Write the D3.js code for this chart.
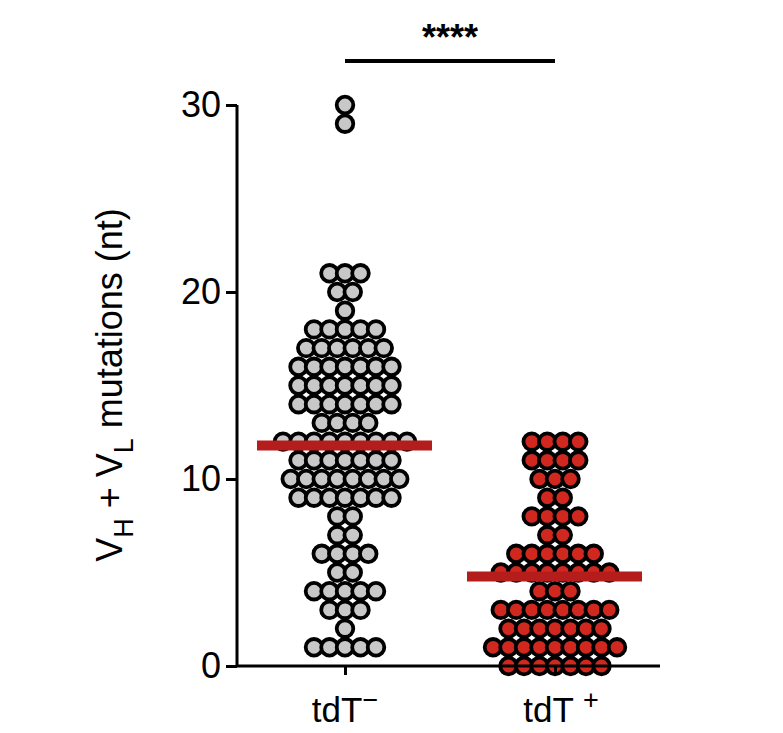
<!DOCTYPE html><html><head><meta charset="utf-8">
<script src="https://cdn.jsdelivr.net/npm/d3@7"></script>
<style>body{margin:0;background:#fff}</style></head><body>
<svg id="c" width="783" height="733"></svg>
<script>
const groups = ["tdT−", "tdT+"];
// value -> number of dots
const negValues = [30,29,21,20,19,18,17,16,15,14,13,12,11,10,9,8,7,6,5,4,3,2,1];
const negCounts = [1,1,3,2,1,5,6,7,7,7,4,9,7,8,7,2,2,4,2,5,3,1,5];
const posValues = [12,11,10,9,8,7,6,5,4,3,2,1,0];
const posCounts = [4,4,3,2,4,2,6,8,3,8,7,9,7];
const yTicks = [0,10,20,30];
const colors = ["#c8c8c8", "#d0281e"];

const svg = d3.select("#c");
const y = d3.scaleLinear().domain([0,30]).range([666,105]);
const x = d3.scalePoint().domain(groups).range([345,555]);
const font = "Liberation Sans, Arial, sans-serif";

function expand(vals, cnts){ const o=[]; vals.forEach((v,i)=>{ for(let k=0;k<cnts[i];k++) o.push({v,k,n:cnts[i]}); }); return o; }
const data = [expand(negValues,negCounts), expand(posValues,posCounts)];
const step = 15.5;

data.forEach((pts,gi)=>{
  const cx = x(groups[gi]);
  svg.append("g").selectAll("circle").data(pts).join("circle")
    .attr("cx", d => cx + (d.k - (d.n-1)/2)*step)
    .attr("cy", d => y(d.v))
    .attr("r", 8.3)
    .attr("fill", colors[gi]).attr("stroke","#000").attr("stroke-width",3.8);
  const mean = d3.mean(pts, d=>d.v);
  svg.append("line").attr("x1",cx-88).attr("x2",cx+87).attr("y1",y(mean)).attr("y2",y(mean))
    .attr("stroke","#b51d1d").attr("stroke-width",10);
});

// axes
const ya = svg.append("g").attr("transform","translate(237,0)")
  .call(d3.axisLeft(y).tickValues(yTicks).tickSize(11).tickPadding(5));
ya.select(".domain").attr("stroke-width",3).attr("d","M0,"+y(30)+"V"+y(0));
ya.selectAll(".tick line").attr("stroke-width",3);
ya.selectAll("text").attr("font-family",font).attr("font-size",36).attr("fill","#000");
const xa = svg.append("g").attr("transform","translate(0,666)")
  .call(d3.axisBottom(x).tickSize(9).tickFormat(""));
xa.select(".domain").attr("stroke-width",3).attr("d","M236,0H660");
xa.selectAll(".tick line").attr("stroke-width",3);

// x labels
const lab = svg.append("g").attr("font-family",font).attr("font-size",35);
let t = lab.append("text").attr("x",x(groups[0])).attr("y",722).attr("text-anchor","middle");
t.append("tspan").text("tdT");
t.append("tspan").text("−").attr("dy",-13).attr("font-size",27);
t = lab.append("text").attr("x",x(groups[1])+6).attr("y",722).attr("text-anchor","middle");
t.append("tspan").text("tdT ");
t.append("tspan").text("+").attr("dy",-13).attr("font-size",27);

// y label
const yl = svg.append("text").attr("transform","translate(122,385) rotate(-90)")
  .attr("text-anchor","middle").attr("font-family",font).attr("font-size",36);
yl.append("tspan").text("V");
yl.append("tspan").text("H").attr("font-size",27).attr("dy",11);
yl.append("tspan").text(" + V").attr("dy",-11);
yl.append("tspan").text("L").attr("font-size",27).attr("dy",11);
yl.append("tspan").text(" mutations (nt)").attr("dy",-11);

// significance
svg.append("line").attr("x1",x(groups[0])).attr("x2",x(groups[1])).attr("y1",61).attr("y2",61)
  .attr("stroke","#000").attr("stroke-width",4);
svg.append("text").attr("x",(x(groups[0])+x(groups[1]))/2).attr("y",50).attr("text-anchor","middle")
  .attr("font-family",font).attr("font-size",36).attr("font-weight","bold").text("****");
</script></body></html>
